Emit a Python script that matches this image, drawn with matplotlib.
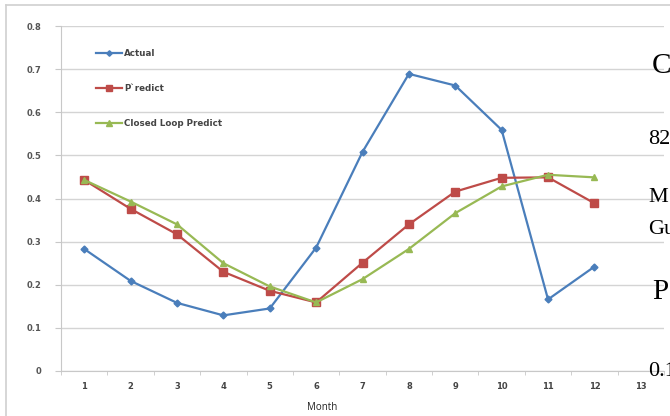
import matplotlib
matplotlib.use("Agg")
import matplotlib.pyplot as plt
from matplotlib.lines import Line2D

months = [1, 2, 3, 4, 5, 6, 7, 8, 9, 10, 11, 12]
tick_labels = ["1", "2", "3", "4", "5", "6", "7", "8", "9", "10", "11", "12", "13"]
actual = [0.283, 0.209, 0.158, 0.129, 0.145, 0.286, 0.508, 0.689, 0.662, 0.559, 0.166, 0.242]
predict = [0.443, 0.376, 0.317, 0.230, 0.186, 0.159, 0.251, 0.340, 0.416, 0.448, 0.449, 0.389]
closed_loop = [0.443, 0.393, 0.340, 0.250, 0.196, 0.159, 0.213, 0.283, 0.366, 0.428, 0.455, 0.449]
y_ticks = [0, 0.1, 0.2, 0.3, 0.4, 0.5, 0.6, 0.7, 0.8]
y_tick_labels = ["0", "0.1", "0.2", "0.3", "0.4", "0.5", "0.6", "0.7", "0.8"]

W, H = 670, 416
fig = plt.figure(figsize=(W / 100, H / 100), dpi=100)

# chart frame (light border from the screenshot)
fig.add_artist(Line2D([6 / W, 6 / W], [0, 1 - 5 / H], color="#d0d0d0", lw=1.2))
fig.add_artist(Line2D([6 / W, 1], [1 - 5 / H, 1 - 5 / H], color="#d0d0d0", lw=1.2))

ax = fig.add_axes([61 / W, 1 - 371 / H, (664 - 61) / W, (371 - 26) / H])

blue = "#4A7EBB"
red = "#BE4B48"
green = "#98B954"

ax.plot(months, actual, color=blue, lw=1.6, marker="D", ms=3.5,
        mfc=blue, mec=blue, label="Actual", zorder=3)
ax.plot(months, predict, color=red, lw=1.6, marker="s", ms=5.5,
        mfc=red, mec=red, label="P`redict", zorder=3)
ax.plot(months, closed_loop, color=green, lw=1.6, marker="^", ms=5,
        mfc=green, mec=green, label="Closed Loop Predict", zorder=4)

ax.set_xlim(0.5, 13.5)
ax.set_ylim(0, 0.8)
ax.set_yticks(y_ticks)
ax.set_yticklabels(y_tick_labels)
ax.set_xticks(range(1, 14))
ax.set_xticklabels(tick_labels)
ax.set_xticks([i + 0.5 for i in range(0, 14)], minor=True)

ax.grid(axis="y", color="#d4d4d4", lw=1.0)
ax.set_axisbelow(True)
for s in ["top", "right"]:
    ax.spines[s].set_visible(False)
ax.spines["left"].set_color("#c8c8c8")
ax.spines["bottom"].set_color("#c8c8c8")

ax.tick_params(axis="x", which="major", length=0, pad=8, labelsize=6,
               labelcolor="#444444")
ax.tick_params(axis="x", which="minor", length=3, color="#c8c8c8")
ax.tick_params(axis="y", length=4, color="#c8c8c8", labelsize=6,
               labelcolor="#555555", pad=10)
for lab in ax.get_xticklabels() + ax.get_yticklabels():
    lab.set_fontweight("bold")

leg = ax.legend(loc="upper left", bbox_to_anchor=(0.045, 0.957), frameon=False,
                fontsize=6.3, labelspacing=3.0, handlelength=3.0,
                handletextpad=0.2, markerscale=0.8)
for t in leg.get_texts():
    t.set_color("#444444")
    t.set_fontweight("bold")

fig.text(322 / W, 1 - 407 / H, "Month", ha="center", va="center",
         fontsize=7, color="#222222", family="Open Sans")

# overlapping document text at the right edge
serif = "Liberation Serif"
fig.text(652 / W, 1 - 66 / H, "C", fontsize=21, family=serif, va="center")
fig.text(648 / W, 1 - 139 / H, "82", fontsize=16, family=serif, va="center")
fig.text(648 / W, 1 - 197 / H, "M", fontsize=16, family=serif, va="center")
fig.text(648 / W, 1 - 229 / H, "Gu", fontsize=16, family=serif, va="center")
fig.text(652 / W, 1 - 292 / H, "P", fontsize=21, family=serif, va="center")
fig.text(648 / W, 1 - 371 / H, "0.1", fontsize=16, family=serif, va="center")

fig.savefig("out.png", dpi=100)
